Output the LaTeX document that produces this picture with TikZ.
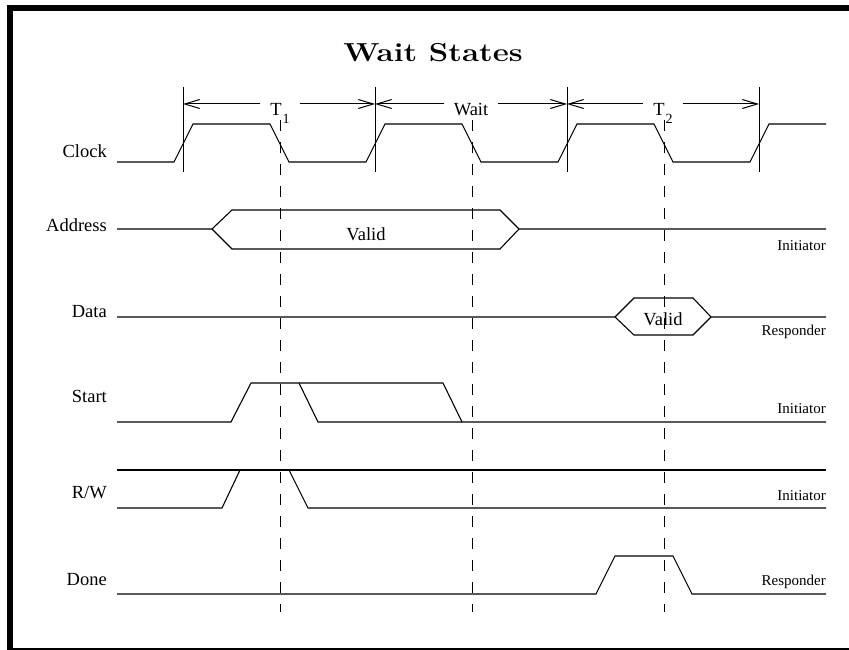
\documentclass[tikz,border=0pt]{standalone}
\usepackage{fontspec}
\newfontfamily\figfont{Liberation Serif}
\usetikzlibrary{arrows.meta}

\begin{document}
\begin{tikzpicture}[
    x=1pt, y=-1pt,
    sig/.style={line width=1.1pt, line join=miter},
    bound/.style={line width=1pt},
    cyc/.style={line width=1pt, dash pattern=on 11pt off 11pt},
    dim/.style={-{Straight Barb[length=15pt,width=9pt]}, line width=1pt},
    signame/.style={font=\figfont\fontsize{18.5}{20}\selectfont, anchor=base east, inner sep=0pt},
    sidelabel/.style={font=\figfont\fontsize{15}{16}\selectfont, anchor=base east, inner sep=0pt},
    period/.style={font=\figfont\fontsize{18.5}{20}\selectfont, anchor=base, inner xsep=10pt, inner ysep=0pt},
    validlabel/.style={font=\figfont\fontsize{18.5}{20}\selectfont, anchor=base, inner sep=0pt},
  ]
  \useasboundingbox (0,0) rectangle (849,650);
  % frame
  \fill (7,5) rectangle (849,11);
  \fill (7,5) rectangle (13,650);
  \fill (7,648) rectangle (849,650);

  \node[anchor=base, inner sep=0pt, font=\fontsize{26}{28}\selectfont\bfseries] (title) at (433,62) {\scalebox{1.2}[1]{Wait States}};

  % cycle boundaries
  \coordinate (v1) at (183,104);
  \coordinate (v2) at (375,104);
  \coordinate (v3) at (567,104);
  \coordinate (v4) at (759,104);
  \draw[bound] (183,87) -- (183,172);
  \draw[bound] (375,87) -- (375,172);
  \draw[bound] (567,87) -- (567,172);
  \draw[bound] (759,87) -- (759,172);
  \node[period] (t1) at (280,116) {T\kern1pt\raisebox{-8pt}{\fontsize{14}{15}\selectfont 1}};
  \node[period] (wait) at (471,116) {Wait};
  \node[period] (t2) at (663,116) {T\kern1pt\raisebox{-8pt}{\fontsize{14}{15}\selectfont 2}};
  \draw[dim] (t1.west |- v1) -- (v1);
  \draw[dim] (t1.east |- v1) -- (v2);
  \draw[dim] (wait.west |- v2) -- (v2);
  \draw[dim] (wait.east |- v2) -- (v3);
  \draw[dim] (t2.west |- v3) -- (v3);
  \draw[dim] (t2.east |- v3) -- (v4);

  % falling edges
  \draw[cyc] (280,120) -- (280,612);
  \draw[cyc] (472,120) -- (472,612);
  \draw[cyc] (664,120) -- (664,612);

  % signal names
  \node[signame] (clock) at (107,158) {Clock};
  \node[signame] (addr) at (107,231) {Address};
  \node[signame] (data) at (107,317) {Data};
  \node[signame] (start) at (107,402) {Start};
  \node[signame] (rw) at (107,498) {R/W};
  \node[signame] (done) at (107,585) {Done};

  % clock
  \draw[sig] (117,162) -- (174,162) -- (193,124) -- (270,124) -- (289,162) -- (366,162)
    -- (385,124) -- (462,124) -- (481,162) -- (558,162) -- (577,124) -- (654,124)
    -- (673,162) -- (750,162) -- (769,124) -- (826,124);

  % address
  \draw[sig] (117,229) -- (212,229) -- (232,210) -- (500,210) -- (519,229) -- (826,229);
  \draw[sig] (212,229) -- (232,249) -- (500,249) -- (519,229);
  \node[validlabel] (avalid) at (366,240) {Valid};
  \node[sidelabel] (ainit) at (826,250) {Initiator};

  % data
  \draw[sig] (117,317) -- (615,317) -- (634,298) -- (693,298) -- (711,317) -- (826,317);
  \draw[sig] (615,317) -- (634,335) -- (693,335) -- (711,317);
  \node[validlabel] (dvalid) at (663,325) {Valid};
  \node[sidelabel] (dresp) at (826,335) {Responder};

  % start
  \draw[sig] (117,422) -- (231,422) -- (251,383) -- (443,383) -- (462,422);
  \draw[sig] (299,383) -- (318,422) -- (826,422);
  \node[sidelabel] (sinit) at (826,413) {Initiator};

  % read/write
  \draw[sig] (117,470) -- (826,470);
  \draw[sig] (117,508) -- (222,508) -- (240,470);
  \draw[sig] (289,470) -- (308,508) -- (826,508);
  \node[sidelabel] (rinit) at (826,500) {Initiator};

  % done
  \draw[sig] (117,594) -- (596,594) -- (615,556) -- (673,556) -- (692,594) -- (826,594);
  \node[sidelabel] (dnresp) at (826,585) {Responder};
\end{tikzpicture}
\end{document}
